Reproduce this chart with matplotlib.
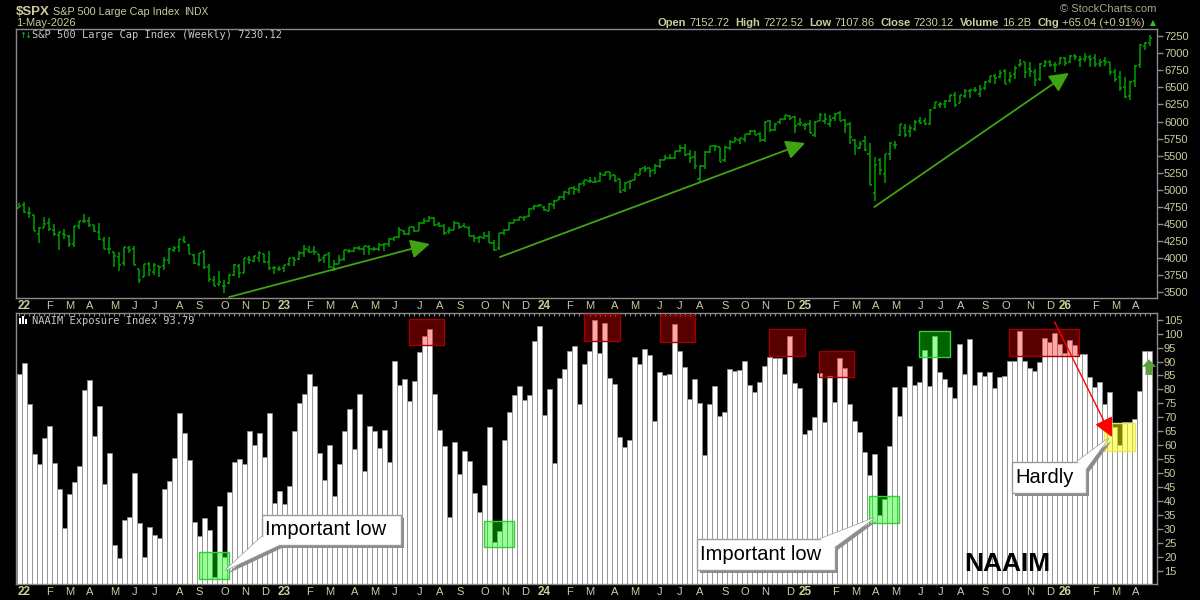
import matplotlib
matplotlib.use('Agg')
import matplotlib.pyplot as plt
import matplotlib.patches as mpatches
import matplotlib.transforms as mtransforms
import numpy as np
import pandas as pd

# weekly bars, Friday dates, 31-Dec-2021 .. 1-May-2026
weeks = pd.date_range('2021-12-31', periods=227, freq='W-FRI')

spx_open = [4733,
    4778, 4662, 4632, 4357, 4431, 4506, 4412, 4332, 4354, 4327, 4202, 4462, 4541, 4547, 4475, 4385, 4255, 4130,
    4081, 4013, 3919, 4151, 4134, 3838, 3715, 3913, 3792, 3880, 3883, 3965, 4113, 4154, 4269, 4195, 4043, 3909,
    4083, 3872, 3682, 3610, 3593, 3638, 3754, 3881, 3780, 3977, 3956, 4005, 4052, 3940, 3854, 3843,
    3853, 3911, 3999, 3978, 4071, 4110, 4101, 4054, 3992, 4055, 3855, 3917, 3982, 4103, 4098, 4138, 4135, 4166,
    4136, 4126, 4190, 4200, 4282, 4304, 4396, 4355, 4450, 4394, 4505, 4543, 4588, 4491, 4460, 4389, 4415, 4510,
    4464, 4445, 4316, 4284, 4289, 4320, 4217, 4139, 4364, 4407, 4511, 4554, 4584, 4610, 4725, 4758,
    4745, 4690, 4772, 4848, 4888, 4957, 5026, 5001, 5093, 5130, 5111, 5123, 5219, 5257, 5211, 5150, 4988, 5115,
    5142, 5221, 5311, 5315, 5283, 5341, 5432, 5459, 5471, 5572, 5615, 5525, 5476, 5151, 5344, 5554, 5636, 5623,
    5442, 5615, 5702, 5727, 5737, 5810, 5863, 5819, 5723, 6007, 5875, 5992, 6041, 6083, 6066, 5959,
    5942, 5969, 5800, 6014, 6013, 5970, 6046, 6121, 6026, 5969, 5725, 5607, 5718, 5527, 4954, 5441, 5232, 5529,
    5655, 5807, 5902, 5854, 5897, 6004, 6004, 5969, 6193, 6246, 6255, 6304, 6394, 6271, 6374, 6445, 6457, 6401,
    6485, 6590, 6664, 6657, 6740, 6604, 6690, 6830, 6866, 6772, 6722, 6620, 6812, 6870, 6827, 6850,
    6930, 6880, 6960, 6900, 6920, 6950, 6930, 6840, 6890, 6870, 6720, 6650, 6500, 6370, 6600, 6830, 7110, 7153]

spx_high = [4808,
    4819, 4749, 4632, 4453, 4595, 4590, 4490, 4385, 4416, 4329, 4465, 4546, 4637, 4594, 4475, 4513, 4308, 4307,
    4081, 4090, 4158, 4177, 4169, 3838, 3913, 3946, 3919, 3880, 4013, 4140, 4168, 4280, 4325, 4208, 4063, 4076,
    4119, 3907, 3736, 3806, 3670, 3762, 3905, 3911, 4001, 4028, 4034, 4100, 4053, 4101, 3876, 3887,
    3896, 4003, 4015, 4095, 4195, 4176, 4170, 4063, 4049, 4079, 3970, 4039, 4110, 4133, 4164, 4170, 4170, 4186,
    4154, 4212, 4212, 4290, 4300, 4448, 4409, 4458, 4456, 4528, 4578, 4607, 4594, 4527, 4490, 4458, 4542, 4515,
    4511, 4466, 4338, 4317, 4386, 4394, 4255, 4366, 4421, 4521, 4568, 4598, 4609, 4738, 4778, 4793,
    4754, 4802, 4842, 4907, 4975, 5031, 5048, 5098, 5140, 5190, 5179, 5262, 5265, 5265, 5222, 5150, 5114, 5138,
    5239, 5325, 5342, 5316, 5375, 5447, 5506, 5524, 5570, 5655, 5669, 5585, 5566, 5356, 5564, 5643, 5651, 5624,
    5636, 5733, 5767, 5765, 5823, 5879, 5878, 5850, 6012, 6018, 5972, 6044, 6099, 6098, 6085, 6050,
    5980, 6022, 6014, 6128, 6120, 6101, 6128, 6147, 6043, 5986, 5746, 5715, 5786, 5691, 5481, 5460, 5528, 5700,
    5720, 5959, 5969, 5943, 6017, 6059, 6051, 6187, 6285, 6290, 6315, 6395, 6427, 6395, 6481, 6478, 6509, 6532,
    6601, 6672, 6699, 6751, 6764, 6722, 6808, 6920, 6870, 6870, 6770, 6853, 6895, 6900, 6880, 6945,
    6945, 6980, 6990, 6960, 7000, 6980, 6990, 6920, 6950, 6880, 6770, 6740, 6650, 6600, 6830, 7130, 7160, 7273]

spx_low = [4733,
    4662, 4582, 4395, 4222, 4431, 4401, 4327, 4115, 4279, 4157, 4162, 4425, 4517, 4450, 4381, 4268, 4128, 4063,
    3859, 3810, 3875, 4074, 3900, 3637, 3715, 3739, 3742, 3722, 3818, 3910, 4079, 4079, 4218, 4057, 3907, 3887,
    3838, 3647, 3584, 3585, 3491, 3611, 3733, 3698, 3780, 3906, 3940, 3946, 3919, 3828, 3764, 3806,
    3794, 3885, 3886, 3973, 4016, 4071, 4047, 3943, 3928, 3847, 3809, 3906, 3951, 4069, 4085, 4114, 4049, 4048,
    4099, 4098, 4103, 4166, 4253, 4290, 4341, 4328, 4385, 4389, 4503, 4528, 4467, 4456, 4335, 4356, 4415, 4430,
    4448, 4316, 4238, 4216, 4283, 4223, 4104, 4113, 4341, 4405, 4511, 4537, 4546, 4597, 4695, 4751,
    4683, 4682, 4714, 4845, 4845, 4918, 4920, 4953, 5057, 5094, 5105, 5117, 5203, 5146, 5108, 4954, 4963, 5012,
    5142, 5211, 5256, 5192, 5234, 5321, 5432, 5447, 5452, 5546, 5497, 5390, 5302, 5119, 5306, 5536, 5561, 5403,
    5406, 5583, 5695, 5674, 5696, 5805, 5796, 5703, 5696, 5853, 5858, 5963, 6024, 6024, 5832, 5932,
    5869, 5825, 5773, 6006, 5962, 5923, 6003, 6008, 5837, 5666, 5505, 5598, 5572, 5069, 4835, 5220, 5101, 5433,
    5603, 5786, 5767, 5767, 5862, 5963, 5953, 5944, 6180, 6201, 6202, 6281, 6212, 6269, 6343, 6343, 6433, 6360,
    6468, 6566, 6551, 6645, 6551, 6570, 6624, 6800, 6631, 6646, 6521, 6600, 6799, 6800, 6720, 6840,
    6820, 6860, 6900, 6800, 6880, 6800, 6800, 6800, 6820, 6680, 6580, 6450, 6340, 6320, 6500, 6790, 7050, 7108]

spx_close = [4766,
    4677, 4663, 4398, 4432, 4501, 4419, 4349, 4385, 4329, 4204, 4463, 4543, 4546, 4488, 4393, 4272, 4132, 4123,
    4024, 3901, 4158, 4109, 3901, 3675, 3912, 3825, 3899, 3863, 3962, 4130, 4145, 4280, 4228, 4058, 3924, 4067,
    3873, 3693, 3586, 3640, 3583, 3752, 3901, 3771, 3993, 3965, 4026, 4072, 3934, 3852, 3845, 3840,
    3895, 3999, 3973, 4071, 4136, 4090, 4079, 3970, 4046, 3862, 3917, 3971, 4109, 4105, 4138, 4133, 4169, 4136,
    4124, 4192, 4205, 4282, 4299, 4410, 4348, 4450, 4399, 4505, 4536, 4582, 4478, 4464, 4370, 4406, 4516, 4457,
    4450, 4320, 4288, 4308, 4327, 4224, 4117, 4358, 4415, 4514, 4559, 4595, 4604, 4719, 4754, 4770,
    4697, 4784, 4840, 4891, 4959, 5027, 5006, 5089, 5137, 5124, 5117, 5234, 5254, 5204, 5123, 4967, 5100, 5128,
    5223, 5303, 5305, 5278, 5347, 5432, 5465, 5460, 5567, 5615, 5505, 5459, 5347, 5344, 5554, 5635, 5648, 5408,
    5626, 5703, 5738, 5751, 5815, 5864, 5808, 5729, 5996, 5870, 5969, 6032, 6090, 6051, 5931, 5971,
    5942, 5827, 5997, 6101, 6041, 6026, 6115, 6013, 5955, 5770, 5639, 5667, 5581, 5074, 5363, 5283, 5525, 5687,
    5660, 5958, 5803, 5912, 6000, 5977, 5967, 6173, 6279, 6260, 6297, 6389, 6238, 6389, 6449, 6467, 6460, 6482,
    6584, 6664, 6644, 6716, 6553, 6664, 6792, 6840, 6728, 6734, 6603, 6849, 6870, 6827, 6834, 6930,
    6858, 6966, 6940, 6915, 6950, 6910, 6840, 6880, 6880, 6720, 6620, 6490, 6365, 6584, 6814, 7120, 7150, 7230]

naaim = [85.5,
    89.3, 74.6, 56.7, 53.1, 62.6, 66.8, 53.5, 44.2, 30.2, 42.5, 46.7, 52.5, 79.7, 83.2, 63.2, 73.9, 46.1, 57.1,
    24.1, 19.4, 33.0, 34.1, 49.9, 32.0, 19.8, 30.5, 27.7, 26.6, 44.2, 47.0, 55.4, 71.4, 64.2, 54.6, 32.4, 27.3,
    33.8, 29.5, 12.8, 38.1, 19.8, 43.1, 53.8, 54.9, 53.1, 65.0, 59.9, 64.2, 55.8, 71.4, 39.3, 43.4,
    38.8, 45.2, 65.0, 75.0, 78.2, 85.5, 81.1, 57.1, 47.4, 59.9, 41.7, 53.1, 65.0, 72.8, 58.5, 78.2, 50.6, 66.8,
    65.0, 58.9, 65.3, 53.8, 90.1, 81.5, 83.6, 75.8, 83.0, 93.3, 99.1, 101.5, 78.2, 65.3, 59.6, 34.1, 61.0, 49.7,
    57.8, 54.2, 42.8, 36.0, 45.7, 66.4, 25.2, 29.2, 61.7, 71.8, 77.9, 81.1, 76.1, 77.9, 97.2, 102.6,
    70.7, 80.0, 53.5, 84.0, 87.2, 93.6, 95.4, 74.6, 89.0, 93.6, 104.8, 92.9, 103.7, 84.0, 81.8, 62.8, 59.2, 61.7,
    91.5, 89.0, 94.4, 92.2, 68.5, 86.1, 85.0, 85.4, 103.3, 93.6, 87.9, 76.4, 83.6, 75.0, 56.4, 74.6, 81.1, 70.3,
    71.8, 87.2, 86.5, 86.8, 90.1, 81.5, 78.9, 82.5, 88.3, 91.5, 91.1, 91.1, 85.4, 99.0, 82.2, 80.4,
    64.0, 65.4, 70.0, 85.8, 68.2, 84.8, 75.4, 91.1, 87.5, 74.6, 68.5, 64.6, 57.4, 49.3, 56.7, 35.0, 40.7, 59.6,
    80.7, 70.3, 80.7, 88.3, 81.5, 82.5, 94.0, 81.1, 99.0, 86.1, 83.6, 80.7, 76.8, 96.2, 85.4, 97.9, 81.5, 86.1,
    84.7, 86.1, 80.4, 84.3, 84.7, 90.1, 90.1, 100.8, 90.1, 87.5, 86.5, 89.7, 98.3, 96.9, 100.4, 96.2,
    92.9, 97.6, 95.8, 92.7, 92.7, 84.6, 81.0, 82.5, 74.8, 79.0, 66.5, 60.1, 68.2, 68.2, 69.3, 79.4, 93.9, 93.79]

month_letters = ['J', 'F', 'M', 'A', 'M', 'J', 'J', 'A', 'S', 'O', 'N', 'D']

TXT = '#cccc9c'
LEG = '#c8c8c8'
EDGE = '#8a8a8a'
BAR = '#00a000'
SANS = ['Liberation Sans', 'DejaVu Sans']

W, H = 1200, 600
fig = plt.figure(figsize=(12, 6), dpi=100, facecolor='black')
renderer = fig.canvas.get_renderer()


def fpx(x, y):
    return x / W, 1 - y / H


ax1 = fig.add_axes([16 / W, 1 - 298 / H, 1141 / W, 269 / H])
ax2 = fig.add_axes([16 / W, 1 - 584 / H, 1141 / W, 271 / H])

x = np.arange(len(spx_close))
for ax in (ax1, ax2):
    ax.set_facecolor('black')
    for s in ax.spines.values():
        s.set_color(EDGE)
        s.set_linewidth(1)
    ax.set_xlim(-0.6, 227.4)
    ax.yaxis.tick_right()
    ax.tick_params(axis='y', direction='out', length=4, width=1, color=EDGE,
                   pad=1, labelsize=8, labelcolor=TXT)

# price bars
ax1.vlines(x, spx_low, spx_high, color=BAR, lw=1.1)
ax1.hlines(spx_open, x - 0.45, x, color=BAR, lw=1.1)
ax1.hlines(spx_close, x, x + 0.45, color=BAR, lw=1.1)
ax1.set_ylim(3411, 7357)
ax1.set_yticks(range(3500, 7251, 250))
ax1.set_yticklabels([str(v) for v in range(3500, 7251, 250)], family=SANS)
ax1.set_xticks([])

# trend arrows on price
arrow_kw = dict(arrowstyle='-|>,head_length=0.9,head_width=0.45', color='#3fa312',
                lw=1.3, mutation_scale=13, shrinkA=0, shrinkB=0)
for start, end in [((42.0, 3425), (82.1, 4203)),
                   ((96.1, 4012), (157.1, 5684)),
                   ((170.9, 4746), (209.8, 6712))]:
    ax1.annotate('', xy=end, xytext=start, arrowprops=arrow_kw)

# NAAIM histogram
ax2.bar(x, naaim, width=1.0, bottom=0, color='white', edgecolor='#909090', linewidth=0.6)
ax2.set_ylim(10.2, 107.4)
ax2.set_yticks(range(15, 106, 5))
ax2.set_yticklabels([str(v) for v in range(15, 106, 5)], family=SANS)
ax2.set_xticks(x)
ax2.set_xticklabels([])
ax2.tick_params(axis='x', bottom=False, top=True, direction='in', length=2,
                width=0.8, color=EDGE)

# highlight boxes
red_boxes = [(78.0, 85.0, 95.8, 105.1), (113.0, 120.0, 97.3, 107.0), (128.0, 135.0, 96.9, 106.6),
             (149.9, 157.0, 92.1, 101.6), (159.9, 166.9, 84.3, 93.7), (197.9, 211.9, 91.9, 101.6)]
green_boxes = [(179.9, 186.0, 91.5, 100.8), (93.0, 99.0, 23.4, 32.8),
               (169.9, 175.9, 32.0, 41.8), (36.0, 42.0, 11.9, 21.6)]
for x0, x1, y0, y1 in red_boxes:
    ax2.add_patch(mpatches.Rectangle((x0, y0), x1 - x0, y1 - y0, facecolor=(1, 0, 0, 0.35),
                                     edgecolor='#a00000', lw=1, zorder=4))
for x0, x1, y0, y1 in green_boxes:
    ax2.add_patch(mpatches.Rectangle((x0, y0), x1 - x0, y1 - y0, facecolor=(0, 1, 0, 0.4),
                                     edgecolor='#30d030', lw=1, zorder=4))
ax2.add_patch(mpatches.Rectangle((216.9, 58.0), 6.1, 9.9, facecolor=(1, 1, 0, 0.5),
                                 edgecolor='#e8e860', lw=1, zorder=4))

# red arrow to the yellow box
ax2.annotate('', xy=(218.4, 62.9), xytext=(206.9, 104.3),
             arrowprops=dict(arrowstyle='-|>,head_length=0.9,head_width=0.45', color='red',
                             lw=1.0, mutation_scale=13, shrinkA=0, shrinkB=0), zorder=6)

# green up arrow at right edge
ax2.add_patch(mpatches.Polygon([(224.4, 88.1), (225.8, 90.8), (227.2, 88.1), (226.5, 88.1),
                                (226.5, 85.2), (225.1, 85.2), (225.1, 88.1)],
                               closed=True, facecolor='#5aa03c', edgecolor='none',
                               zorder=6, clip_on=False))

shadow = mtransforms.offset_copy(ax2.transData, fig=fig, x=3, y=-3, units='dots')


def callout(box, wedge, text):
    x0, x1, y0, y1 = box
    for tr, fc, ec, z in [(shadow, '#8c8c8c', 'none', 6), (ax2.transData, 'white', '#9a9a9a', 7)]:
        ax2.add_patch(mpatches.Polygon(wedge, closed=True, facecolor=fc, edgecolor=ec,
                                       lw=1, transform=tr, zorder=z))
        ax2.add_patch(mpatches.Rectangle((x0, y0), x1 - x0, y1 - y0, facecolor=fc,
                                         edgecolor=ec, lw=1, transform=tr, zorder=z))
    ax2.add_patch(mpatches.Polygon(wedge, closed=True, facecolor='white', edgecolor='none',
                                   zorder=7.5))
    ax2.text(x0 + 0.6, (y0 + y1) / 2, text, ha='left', va='center', fontsize=14.5,
             family=SANS, color='black', zorder=8)


callout((48.5, 76.3, 24.2, 35.0), [(48.5, 27.2), (52.0, 24.2), (41.2, 15.1)], 'Important low')
callout((135.5, 163.1, 15.2, 26.3), [(160.0, 26.3), (163.1, 23.6), (170.9, 33.9)], 'Important low')
callout((198.4, 213.2, 43.0, 54.1), [(211.4, 54.1), (213.2, 51.4), (217.7, 62.5)], 'Hardly')

ax2.text(197.4, 17.4, 'NAAIM', ha='center', va='center', fontsize=19, fontweight='bold',
         family=SANS, color='black', zorder=8)

# date labels under each panel
for ax in (ax1, ax2):
    tr = mtransforms.offset_copy(ax.get_xaxis_transform(), fig=fig, x=0, y=-8, units='dots')
    for i in range(1, len(weeks)):
        if weeks[i].month == weeks[i - 1].month:
            continue
        if weeks[i].month == 1:
            ax.text(i, 0, weeks[i].strftime('%y'), transform=tr, ha='center', va='center',
                    fontsize=8.5, fontweight='bold', color=TXT, family=SANS)
        elif i + 1.1 < 227:
            ax.text(i + 1.1, 0, month_letters[weeks[i].month - 1], transform=tr, ha='center',
                    va='center', fontsize=8, color=TXT, family=SANS)

# header
fig.text(*fpx(16, 12), '$SPX', fontsize=9.5, fontweight='bold', color=TXT, family=SANS, va='center')
t = fig.text(*fpx(53, 12), 'S&P 500 Large Cap Index', fontsize=7.8, color=TXT, family=SANS,
             va='center')
x_indx = 53 + t.get_window_extent(renderer).width + 5
fig.text(*fpx(x_indx, 12), 'INDX', fontsize=7.3, color=TXT, family=SANS, va='center')
fig.text(*fpx(16, 22.5), '1-May-2026', fontsize=8, color=TXT, family=SANS, va='center')
fig.text(*fpx(1156, 9.5), '\u00a9 StockCharts.com', fontsize=8, color='#a6a690', family=SANS,
         ha='right', va='center')
fig.text(*fpx(1153, 22.5), '\u25b2', fontsize=5.5, color='#30c030', family='DejaVu Sans',
         ha='center', va='center')

header = [('Open', '7152.72'), ('High', '7272.52'), ('Low', '7107.86'), ('Close', '7230.12'),
          ('Volume', '16.2B'), ('Chg', '+65.04 (+0.91%)')]
xr = 1145
for lab, val in reversed(header):
    t = fig.text(*fpx(xr, 22.5), val, fontsize=8, color=TXT, family=SANS, ha='right', va='center')
    xr -= t.get_window_extent(renderer).width + 3
    t = fig.text(*fpx(xr, 22.5), lab, fontsize=8, fontweight='bold', color=TXT, family=SANS,
                 ha='right', va='center')
    xr -= t.get_window_extent(renderer).width + 6

# panel legends
fig.text(*fpx(19, 35), '\u2191', fontsize=6, color='#20c020', family='DejaVu Sans', va='center')
fig.text(*fpx(24, 35), '\u2193', fontsize=6, color='#20c020', family='DejaVu Sans', va='center')
fig.text(*fpx(32, 35), 'S&P 500 Large Cap Index (Weekly) 7230.12', fontsize=7.5, color=LEG,
         family='DejaVu Sans Mono', va='center')
for bx, top in [(19.3, 317.5), (22.0, 315.8), (24.7, 318.5)]:
    fig.add_artist(mpatches.Rectangle(fpx(bx, 323.5), 1.8 / W, (323.5 - top) / H,
                                      transform=fig.transFigure, facecolor='white',
                                      edgecolor='none'))
fig.text(*fpx(32, 320.7), 'NAAIM Exposure Index 93.79', fontsize=7.5, color=LEG,
         family='DejaVu Sans Mono', va='center')

fig.savefig('out.png', dpi=100, facecolor='black')
